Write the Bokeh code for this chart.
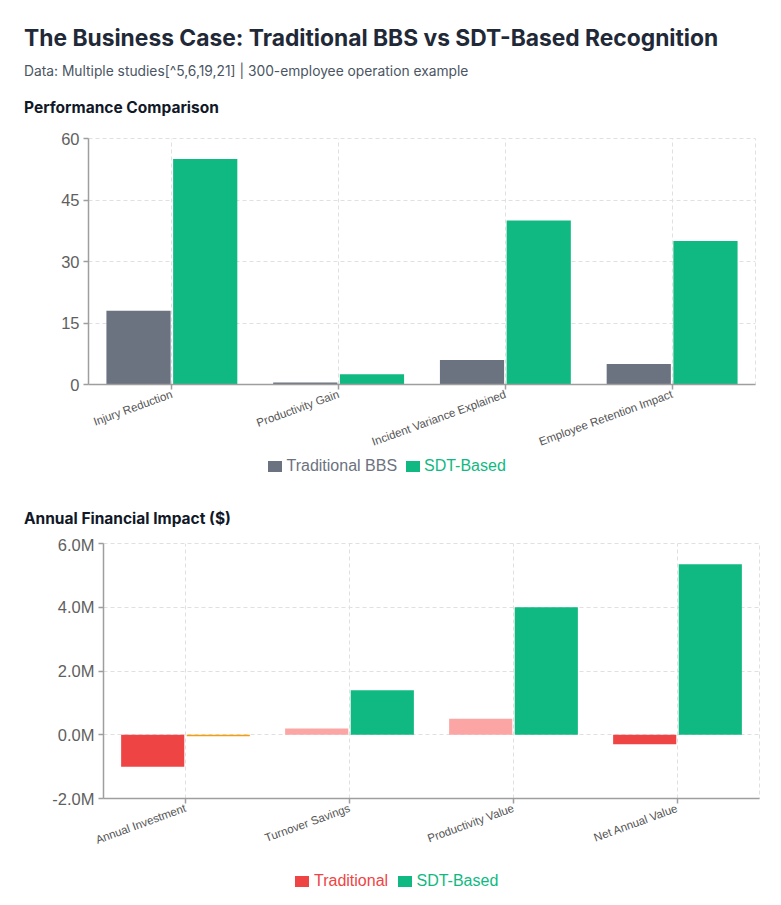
from bokeh.plotting import figure
from bokeh.models import (FactorRange, Range1d, FixedTicker, Div,
                          CustomJSTickFormatter, ColumnDataSource)
from bokeh.layouts import column, row
from bokeh.transform import dodge
from bokeh.embed import file_html
from bokeh.resources import INLINE

# ---------------- data ----------------
perf_categories = ["Injury Reduction", "Productivity Gain",
                   "Incident Variance Explained", "Employee Retention Impact"]
perf_traditional = [18, 0.5, 6, 5]
perf_sdt = [55, 2.5, 40, 35]
perf_ticks = [0, 15, 30, 45, 60]
perf_series = ["Traditional BBS", "SDT-Based"]

fin_categories = ["Annual Investment", "Turnover Savings",
                  "Productivity Value", "Net Annual Value"]
fin_traditional = [-1000000, 200000, 500000, -300000]
fin_sdt = [-50000, 1400000, 4000000, 5350000]
fin_ticks = [-2000000, 0, 2000000, 4000000, 6000000]
fin_series = ["Traditional", "SDT-Based"]

# ---------------- styles ----------------
GRAY = "#6b7280"
GREEN = "#10b981"
RED = "#ef4444"
LIGHT_RED = "#fca5a5"
AMBER = "#f59e0b"
GRID = "#e0e0e0"
AXIS = "#9e9e9e"
TICK_FONT = "Liberation Sans"


def style_axes(p, ticks):
    p.background_fill_color = "white"
    p.border_fill_color = "white"
    p.outline_line_color = GRID
    p.outline_line_dash = "4 3"
    for g in (p.xgrid, p.ygrid):
        g.grid_line_color = GRID
        g.grid_line_dash = "4 3"
        g.grid_line_width = 1
    p.yaxis.ticker = FixedTicker(ticks=ticks)
    for ax in (p.xaxis, p.yaxis):
        ax.axis_line_color = AXIS
        ax.axis_line_width = 1.5
        ax.major_tick_line_color = AXIS
        ax.major_tick_line_width = 1.5
        ax.major_tick_in = 0
        ax.major_tick_out = 5
        ax.minor_tick_line_color = None
        ax.major_label_text_font = TICK_FONT
    p.yaxis.major_label_text_font_size = "16.5px"
    p.yaxis.major_label_text_color = "#5f5f5f"
    p.yaxis.major_label_standoff = 4
    p.xaxis.major_label_text_font_size = "11.5px"
    p.xaxis.major_label_text_color = "#555555"
    p.xaxis.major_label_orientation = 0.35
    p.xaxis.major_label_standoff = 4


def legend_html(items, cy):
    # items: (label, color, square_x, text_x)
    parts = []
    for label, color, sx, tx in items:
        parts.append(
            f'<div style="position:absolute;left:{sx}px;top:{cy - 5}px;width:13.5px;'
            f'height:10.5px;background:{color};"></div>'
            f'<div style="position:absolute;left:{tx}px;top:{cy - 10}px;line-height:20px;'
            f'font-family:\'{TICK_FONT}\';font-size:16px;color:{color};white-space:nowrap;">'
            f'{label}</div>')
    return "".join(parts)


def heading_html(text, top, size, weight, color, lh=20):
    return (f'<div style="position:absolute;left:16px;top:{top}px;line-height:{lh}px;'
            f'font-family:Inter;font-size:{size}px;font-weight:{weight};color:{color};'
            f'white-space:nowrap;">{text}</div>')


# ---------------- header ----------------
header = Div(text=(
    '<div style="position:relative;width:765px;height:120px;">'
    + heading_html("The Business Case: Traditional BBS vs SDT-Based Recognition",
                   15, 22.8, 700, "#1f2937", lh=30)
    + heading_html("Data: Multiple studies[^5,6,19,21] | 300-employee operation example",
                   53, 13.8, 400, "#4b5563")
    + heading_html("Performance Comparison", 90, 15.5, 700, "#111827")
    + '</div>'), width=765, height=120, margin=(0, 0, 0, 0))

# ---------------- chart 1 ----------------
src1 = ColumnDataSource(dict(cat=perf_categories, trad=perf_traditional, sdt=perf_sdt))
p1 = figure(x_range=FactorRange(*perf_categories), y_range=Range1d(0, 60),
            width=765, height=330, output_backend="svg", toolbar_location=None,
            min_border_left=80, min_border_right=18, min_border_top=10,
            min_border_bottom=74)
p1.vbar(x=dodge("cat", -0.2, range=p1.x_range), top="trad", width=0.385,
        source=src1, fill_color=GRAY, line_color=None)
p1.vbar(x=dodge("cat", 0.2, range=p1.x_range), top="sdt", width=0.385,
        source=src1, fill_color=GREEN, line_color=None)
style_axes(p1, perf_ticks)

# ---------------- legend 1 + section 2 title ----------------
mid = Div(text=(
    '<div style="position:relative;width:765px;height:77px;">'
    + legend_html([(perf_series[0], GRAY, 260, 278.5),
                   (perf_series[1], GREEN, 398, 416)], 8)
    + heading_html("Annual Financial Impact ($)", 51, 15.5, 700, "#111827")
    + '</div>'), width=765, height=77, margin=(0, 0, 0, 0))

# ---------------- chart 2 ----------------
trad_colors = [RED if v < 0 else LIGHT_RED for v in fin_traditional]
sdt_colors = [AMBER if v < 0 else GREEN for v in fin_sdt]
src2 = ColumnDataSource(dict(cat=fin_categories, trad=fin_traditional, sdt=fin_sdt,
                             tc=trad_colors, sc=sdt_colors))
p2 = figure(x_range=FactorRange(*fin_categories), y_range=Range1d(-2000000, 6000000),
            width=765, height=323, output_backend="svg", toolbar_location=None,
            min_border_left=95, min_border_right=14, min_border_top=8,
            min_border_bottom=60)
p2.vbar(x=dodge("cat", -0.2, range=p2.x_range), top="trad", bottom=0, width=0.385,
        source=src2, fill_color="tc", line_color=None)
p2.vbar(x=dodge("cat", 0.2, range=p2.x_range), top="sdt", bottom=0, width=0.385,
        source=src2, fill_color="sc", line_color=None)
style_axes(p2, fin_ticks)
p2.yaxis.formatter = CustomJSTickFormatter(code="return (tick/1e6).toFixed(1) + 'M';")

# ---------------- legend 2 ----------------
bottom = Div(text=(
    '<div style="position:relative;width:765px;height:39px;">'
    + legend_html([(fin_series[0], RED, 287, 306),
                   (fin_series[1], GREEN, 390, 408.5)], 23)
    + '</div>'), width=765, height=39, margin=(0, 0, 0, 0))

layout = column(header, row(p1, margin=(0, 0, 0, 0)), mid,
                row(p2, margin=(0, 0, 0, 0)), bottom,
                spacing=0, margin=(8, 8, 8, 8))
open("out.html", "w").write(file_html(layout, INLINE))
